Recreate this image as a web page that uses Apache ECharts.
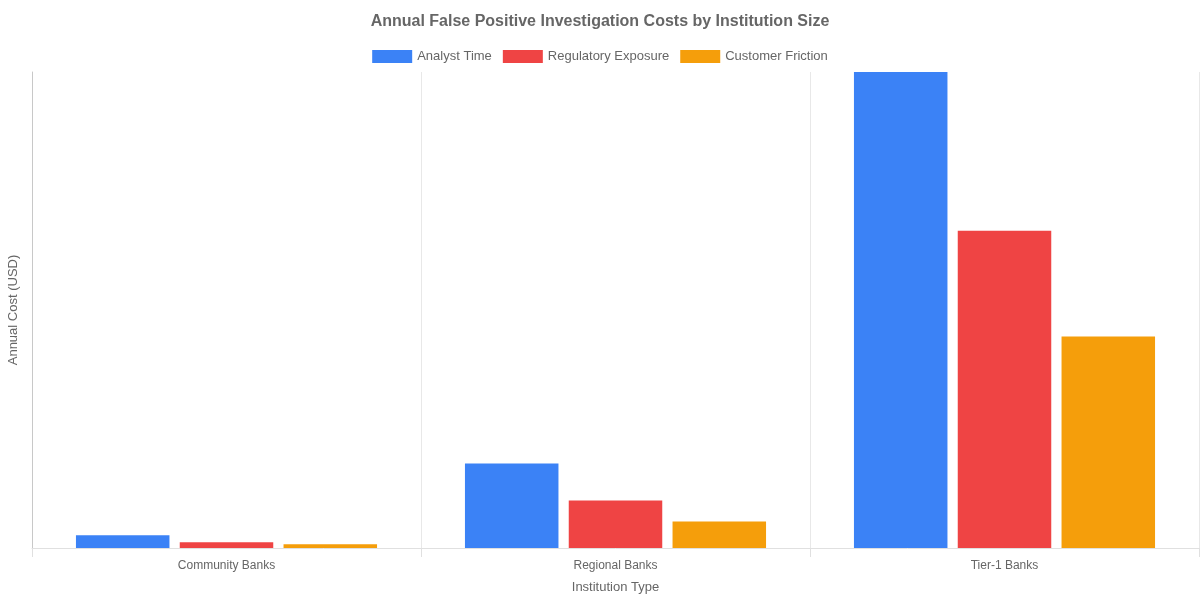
<!DOCTYPE html>
<html>
<head>
<meta charset="utf-8">
<script src="https://cdn.jsdelivr.net/npm/echarts@6/dist/echarts.min.js"></script>
<style>
html,body{margin:0;padding:0;background:#fff;}
#c{width:1200px;height:600px;}
</style>
</head>
<body>
<div id="c"></div>
<script>
const categories = ['Community Banks', 'Regional Banks', 'Tier-1 Banks'];
const analystTime = [1200000, 8000000, 45000000];
const regulatoryExposure = [550000, 4500000, 30000000];
const customerFriction = [350000, 2500000, 20000000];

const font = '"Liberation Sans", Arial, Helvetica, sans-serif';
const chart = echarts.init(document.getElementById('c'));
const yMax = Math.max(...analystTime, ...regulatoryExposure, ...customerFriction);

chart.setOption({
  animation: false,
  backgroundColor: '#fff',
  title: {
    text: 'Annual False Positive Investigation Costs by Institution Size',
    left: 'center', top: 9,
    textStyle: { fontSize: 16, fontWeight: 'bold', color: '#666', fontFamily: font }
  },
  legend: {
    top: 45, left: 'center',
    icon: 'rect',
    itemWidth: 40, itemHeight: 13, itemGap: 11,
    textStyle: { fontSize: 13, color: '#666', fontFamily: font },
    data: ['Analyst Time', 'Regulatory Exposure', 'Customer Friction']
  },
  grid: { left: 32, right: 1, top: 72, bottom: 52, containLabel: false, outerBoundsMode: 'none' },
  xAxis: {
    type: 'category',
    data: categories,
    name: 'Institution Type',
    nameLocation: 'middle',
    nameGap: 33,
    nameTextStyle: { fontSize: 13, color: '#666', fontFamily: font },
    axisLine: { show: true, lineStyle: { color: '#e0e0e0' } },
    axisTick: { show: true, length: 9, lineStyle: { color: '#e0e0e0' } },
    axisLabel: { fontSize: 12, color: '#666', margin: 12, fontFamily: font },
    splitLine: { show: true, lineStyle: { color: '#e8e8e8' } }
  },
  yAxis: {
    type: 'value',
    min: 0, max: yMax,
    name: 'Annual Cost (USD)',
    nameLocation: 'middle',
    nameGap: 12,
    nameTextStyle: { fontSize: 13, color: '#666', fontFamily: font },
    axisLine: { show: true, lineStyle: { color: '#c8c8c8' } },
    axisTick: { show: false },
    axisLabel: { show: false },
    splitLine: { show: false }
  },
  series: [
    { name: 'Analyst Time', type: 'bar', data: analystTime, itemStyle: { color: '#3b82f6' }, barGap: '11%', barCategoryGap: '22.6%' },
    { name: 'Regulatory Exposure', type: 'bar', data: regulatoryExposure, itemStyle: { color: '#ef4444' } },
    { name: 'Customer Friction', type: 'bar', data: customerFriction, itemStyle: { color: '#f59e0b' } }
  ]
});
</script>
</body>
</html>
